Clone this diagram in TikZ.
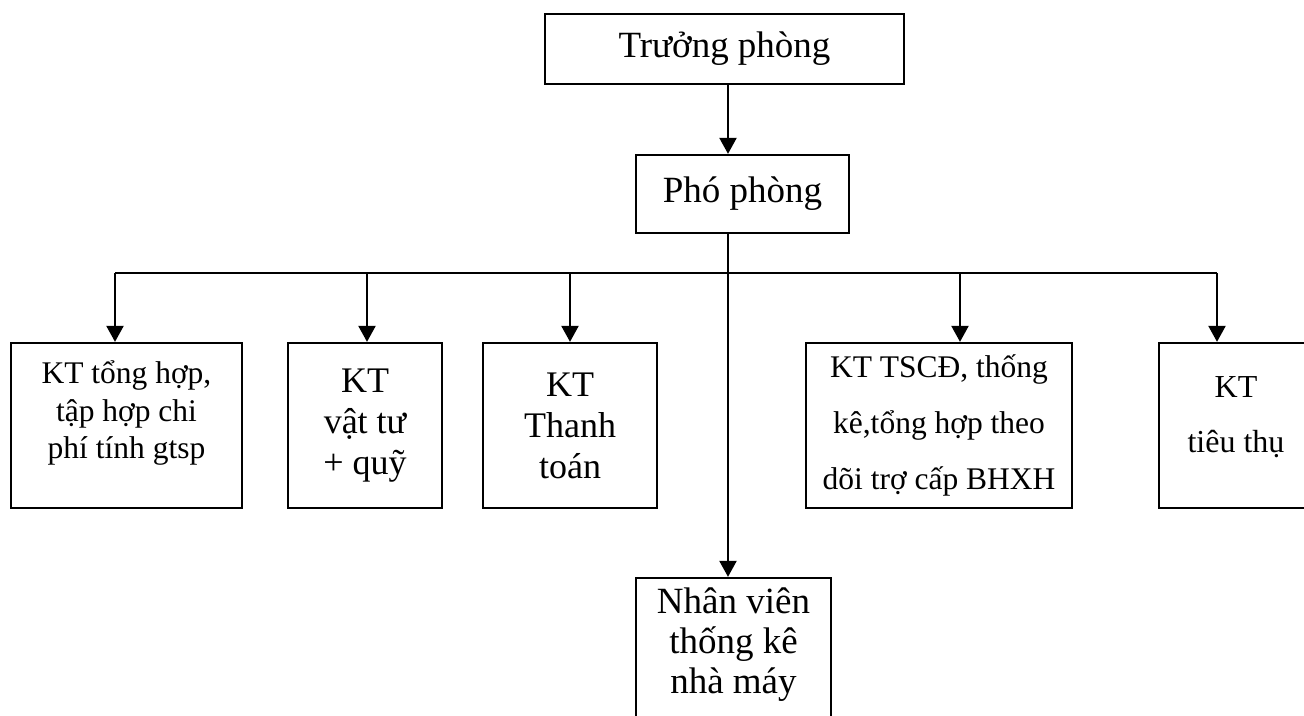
\documentclass[tikz,border=0pt]{standalone}
\usepackage{fontspec}
\setmainfont{Liberation Serif}
\usetikzlibrary{arrows.meta}
\newcommand{\topbox}[3]{\parbox[c][#1][t]{#2}{\centering #3}}
\tikzset{
block/.style = {draw, line width=2.3pt, align=center, inner sep=0pt},
tmp/.style  = {coordinate},
line/.style = {line width=2.3pt},
arr/.style  = {line width=2.3pt, -{Triangle[length=16pt,width=17pt]}}
}

\begin{document}
\begin{tikzpicture}[x=1pt, y=1pt, node distance=2cm]
    \useasboundingbox (0,0) rectangle (1304,715);

    \node [block, name=truong, minimum width=359pt, minimum height=70pt,
      font=\fontsize{37}{44}\selectfont] (truong) at (724.5,666) {Trưởng phòng};
    \node [block, name=pho, below of=truong, node distance=145pt, xshift=18pt,
      minimum width=213pt, minimum height=78pt,
      font=\fontsize{37}{44}\selectfont] (pho) {Phó phòng};

    \node [block, name=thanhtoan, minimum width=174pt, minimum height=165pt,
      font=\fontsize{36}{41}\selectfont] (thanhtoan) at (570,289.5) {KT\\Thanh\\toán};
    \node [block, name=vattu, left of=thanhtoan, node distance=205pt,
      minimum width=154pt, minimum height=165pt,
      font=\fontsize{36}{41}\selectfont] (vattu) {KT\\vật tư\\+ quỹ};
    \node [block, name=tonghop, left of=vattu, node distance=238.5pt,
      font=\fontsize{31.5}{37.5}\selectfont] (tonghop)
    {\topbox{165pt}{231pt}{\vspace*{18pt}KT tổng hợp,\\tập hợp chi\\phí tính gtsp}};

    \node [block, name=tscd, right of=thanhtoan, node distance=369pt,
      minimum width=266pt, minimum height=165pt,
      font=\fontsize{31.5}{56}\selectfont] (tscd)
    {KT TSCĐ, thống\\kê,tổng hợp theo\\dõi trợ cấp BHXH};
    \node [block, name=tieuthu, right of=tscd, node distance=297pt,
      font=\fontsize{32}{55}\selectfont] (tieuthu)
    {\topbox{165pt}{154pt}{\vspace*{34pt}KT\\tiêu thụ}};

    \node [block, name=nhanvien, below of=pho, node distance=464pt, xshift=-9pt,
      font=\fontsize{37}{40}\selectfont] (nhanvien)
    {\topbox{160pt}{195pt}{\vspace*{10pt}Nhân viên\\thống kê\\nhà máy}};

    % bus
    \node [tmp, name=bus] (bus) at (728,442) {};
    \node [tmp, name=t1] (t1) at (115,442) {};
    \node [tmp, name=t2] (t2) at (367,442) {};
    \node [tmp, name=t3] (t3) at (570,442) {};
    \node [tmp, name=t4] (t4) at (960,442) {};
    \node [tmp, name=t5] (t5) at (1217,442) {};

    \draw [arr] (truong.south -| bus) -- (pho.north -| bus);
    \draw [arr] (pho.south -| bus) -- (nhanvien.north -| bus);
    \draw [line] (t1) -- (t5);

    \draw [arr] (t1) -- (t1 |- tonghop.north);
    \draw [arr] (t2) -- (t2 |- vattu.north);
    \draw [arr] (t3) -- (t3 |- thanhtoan.north);
    \draw [arr] (t4) -- (t4 |- tscd.north);
    \draw [arr] (t5) -- (t5 |- tieuthu.north);

\end{tikzpicture}
\end{document}
